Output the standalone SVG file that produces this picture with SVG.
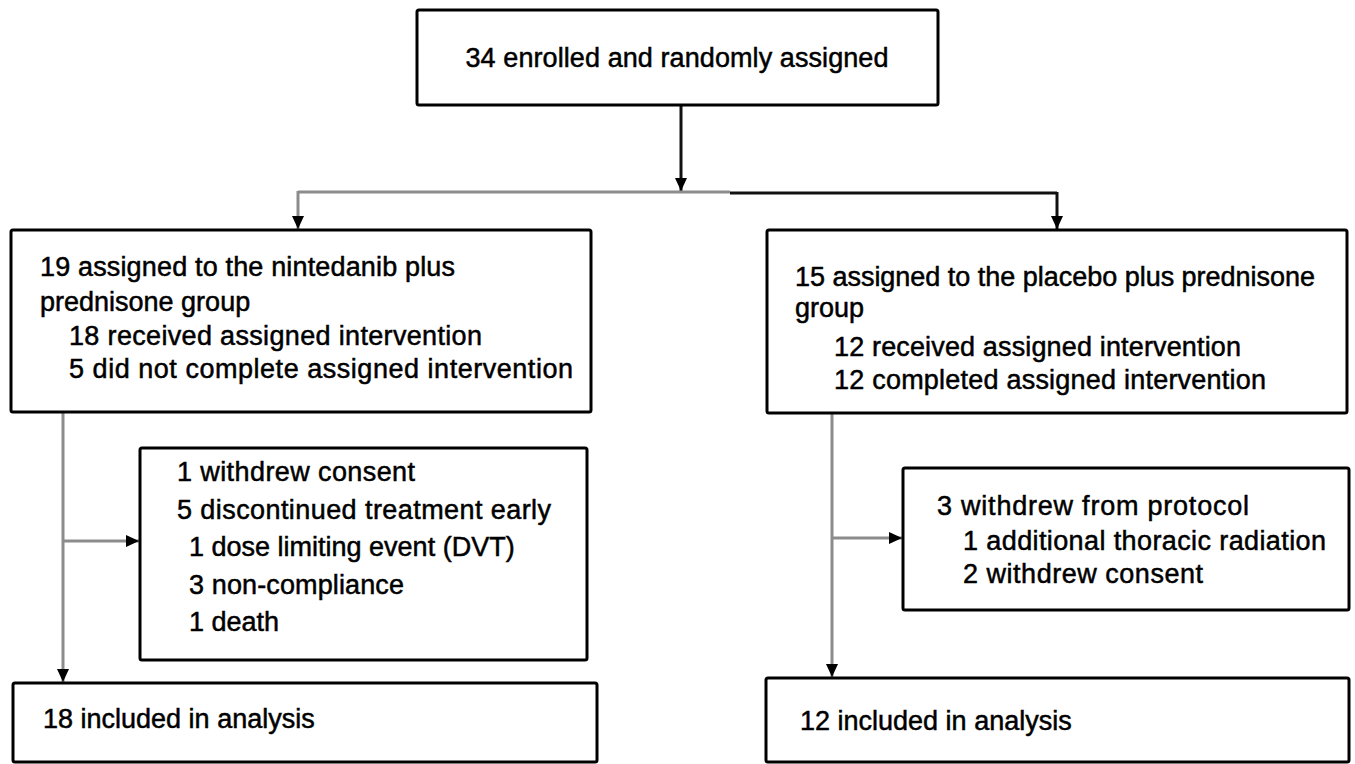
<svg xmlns="http://www.w3.org/2000/svg" width="1355" height="764" viewBox="0 0 1355 764">
  <style>
    .box { fill: #fff; stroke: #000; stroke-width: 3; }
    .t { font-family: "Liberation Sans", Arial, sans-serif; font-size: 27px; fill: #000; stroke: #000; stroke-width: 0.5; }
    .c { fill: none; stroke: #8c8c8c; stroke-width: 3; }
    .k { fill: none; stroke: #111; stroke-width: 3; }
  </style>
  <defs>
    <marker id="ah" markerWidth="13" markerHeight="13" refX="13" refY="6.5" orient="auto" markerUnits="userSpaceOnUse">
      <path d="M0,0.5 L13,6.5 L0,12.5 Z" fill="#000"/>
    </marker>
  </defs>
  <rect width="1355" height="764" fill="#fff"/>

  <g id="connectors">
    <line class="k" x1="681" y1="105" x2="681" y2="191" marker-end="url(#ah)"/>
    <line class="c" x1="298" y1="192" x2="730" y2="192"/>
    <line class="k" x1="730" y1="193" x2="1057" y2="193"/>
    <line class="c" x1="298" y1="191" x2="298" y2="229" marker-end="url(#ah)"/>
    <line class="k" x1="1057" y1="192" x2="1057" y2="229" marker-end="url(#ah)"/>
    <line class="c" x1="63" y1="413" x2="63" y2="682" marker-end="url(#ah)"/>
    <line class="c" x1="63" y1="541" x2="139" y2="541" marker-end="url(#ah)"/>
    <line class="c" x1="832" y1="414" x2="832" y2="677" marker-end="url(#ah)"/>
    <line class="c" x1="832" y1="538" x2="902" y2="538" marker-end="url(#ah)"/>
  </g>

  <g id="enrolled">
    <rect class="box" x="417" y="10" width="521" height="95" rx="2"/>
    <text class="t" x="677" y="67" text-anchor="middle" textLength="423" lengthAdjust="spacing">34 enrolled and randomly assigned</text>
  </g>

  <g id="nintedanib">
    <rect class="box" x="11" y="230" width="580" height="182" rx="2"/>
    <text class="t" x="40" y="276" textLength="415" lengthAdjust="spacing">19 assigned to the nintedanib plus</text>
    <text class="t" x="40" y="311">prednisone group</text>
    <text class="t" x="69" y="345" textLength="413" lengthAdjust="spacing">18 received assigned intervention</text>
    <text class="t" x="69" y="378" textLength="504" lengthAdjust="spacing">5 did not complete assigned intervention</text>
  </g>

  <g id="placebo">
    <rect class="box" x="767" y="230" width="580" height="183" rx="2"/>
    <text class="t" x="795" y="286" textLength="520" lengthAdjust="spacing">15 assigned to the placebo plus prednisone</text>
    <text class="t" x="795" y="317">group</text>
    <text class="t" x="834" y="356" textLength="407" lengthAdjust="spacing">12 received assigned intervention</text>
    <text class="t" x="834" y="389" textLength="432" lengthAdjust="spacing">12 completed assigned intervention</text>
  </g>

  <g id="nintedanib-excluded">
    <rect class="box" x="140" y="448" width="447" height="212" rx="2"/>
    <text class="t" x="177" y="481" textLength="238" lengthAdjust="spacing">1 withdrew consent</text>
    <text class="t" x="177" y="519" textLength="374" lengthAdjust="spacing">5 discontinued treatment early</text>
    <text class="t" x="189" y="556">1 dose limiting event (DVT)</text>
    <text class="t" x="189" y="594" textLength="215" lengthAdjust="spacing">3 non-compliance</text>
    <text class="t" x="189" y="631">1 death</text>
  </g>

  <g id="placebo-excluded">
    <rect class="box" x="903" y="468" width="446" height="142" rx="2"/>
    <text class="t" x="937" y="515" textLength="312" lengthAdjust="spacing">3 withdrew from protocol</text>
    <text class="t" x="963" y="550" textLength="363" lengthAdjust="spacing">1 additional thoracic radiation</text>
    <text class="t" x="963" y="583" textLength="240" lengthAdjust="spacing">2 withdrew consent</text>
  </g>

  <g id="nintedanib-analysis">
    <rect class="box" x="13" y="683" width="584" height="79" rx="2"/>
    <text class="t" x="43" y="728">18 included in analysis</text>
  </g>

  <g id="placebo-analysis">
    <rect class="box" x="766" y="678" width="583" height="84" rx="2"/>
    <text class="t" x="800" y="730">12 included in analysis</text>
  </g>
</svg>
